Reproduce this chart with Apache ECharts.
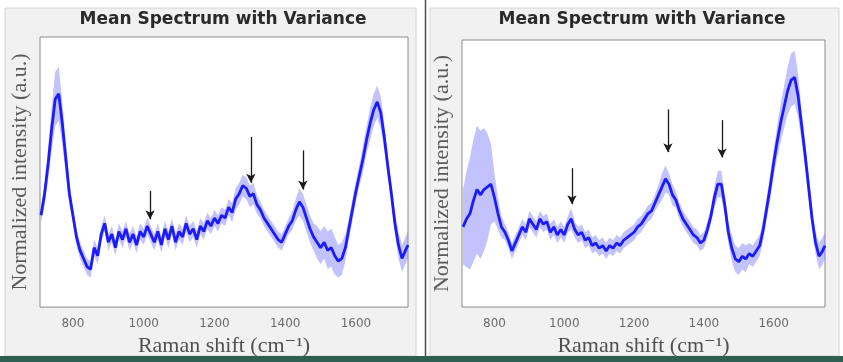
<!DOCTYPE html>
<html>
<head>
<meta charset="utf-8">
<script src="https://cdn.jsdelivr.net/npm/echarts@6/dist/echarts.min.js"></script>
<style>
  html, body { margin: 0; padding: 0; background: #fff; }
  #chart { width: 843px; height: 362px; }
</style>
</head>
<body>
<div id="chart"></div>
<script>
const ramanShift = [
  710, 720, 730, 740, 750, 760, 770, 780, 790, 800,
  810, 820, 830, 840, 850, 860, 870, 880, 890, 900,
  910, 920, 930, 940, 950, 960, 970, 980, 990, 1000,
  1010, 1020, 1030, 1040, 1050, 1060, 1070, 1080, 1090, 1100,
  1110, 1120, 1130, 1140, 1150, 1160, 1170, 1180, 1190, 1200,
  1210, 1220, 1230, 1240, 1250, 1260, 1270, 1280, 1290, 1300,
  1310, 1320, 1330, 1340, 1350, 1360, 1370, 1380, 1390, 1400,
  1410, 1420, 1430, 1440, 1450, 1460, 1470, 1480, 1490, 1500,
  1510, 1520, 1530, 1540, 1550, 1560, 1570, 1580, 1590, 1600,
  1610, 1620, 1630, 1640, 1650, 1660, 1670, 1680, 1690, 1700,
  1710, 1720, 1730, 1740, 1747
]

// left panel: mean spectrum and spread (same units as the y axis)
const leftMean = [
  34, 42, 53, 66, 77, 79, 68, 55, 42, 34,
  26, 21, 18, 15, 14, 22, 19, 27, 31, 24,
  27, 22, 28, 25, 29, 24, 27, 23, 28, 26,
  30, 27, 24, 28, 23, 29, 25, 30, 24, 28,
  26, 31, 27, 29, 25, 30, 28, 32, 30, 33,
  31, 34, 33, 37, 35, 40, 42, 45, 44, 41,
  42, 38, 36, 33, 31, 29, 27, 25, 24, 27,
  30, 32, 36, 39, 37, 33, 29, 26, 24, 22,
  24, 21, 22, 19, 17, 18, 22, 29, 36, 43,
  49, 55, 62, 68, 73, 76, 72, 63, 52, 42,
  31, 23, 18, 21, 23
]
const leftSpread = [
  3, 4, 6, 8, 10, 10, 8, 6, 4, 3,
  3, 3, 3, 3, 3, 3, 3, 3, 3, 3,
  3, 3, 3, 3, 3, 3, 3, 3, 3, 3,
  3, 3, 3, 3, 3, 3, 3, 3, 3, 3,
  3, 3, 3, 3, 3, 3, 3, 3, 3, 3,
  3, 3, 3, 3, 3.5, 4, 4, 4, 4, 4,
  4, 3.5, 3, 3, 3, 3, 3, 3, 3, 3,
  3, 3.5, 4, 5, 5, 5, 5, 5, 6, 6,
  6, 7, 7, 7, 6, 6, 5, 4, 4, 4,
  4, 5, 5, 6, 6, 6, 6, 5, 4, 4,
  4, 5, 5, 5, 5
]
const leftArrows = [[1018, 43, 32.5], [1303, 63, 46], [1450, 58, 43.5]]

// right panel
const rightMean = [
  30, 33, 35, 40, 44, 42, 44, 45, 46, 41,
  35, 30, 28, 25, 21, 24, 27, 30, 28, 33,
  31, 29, 33, 31, 32, 28, 30, 27, 29, 27,
  31, 33, 29, 27, 28, 25, 26, 23, 24, 22,
  23, 21, 23, 22, 24, 23, 25, 26, 27, 28,
  30, 31, 33, 35, 36, 39, 42, 45, 48, 46,
  42, 40, 36, 33, 31, 29, 27, 26, 24, 25,
  29, 34, 41, 46, 46, 38, 28, 22, 18, 17,
  19, 18, 20, 19, 21, 23, 29, 37, 45, 54,
  62, 69, 75, 81, 85, 86, 79, 68, 57, 45,
  33, 24, 19, 21, 23
]
const rightSpread = [
  14, 18, 21, 23, 24, 24, 23, 20, 15, 9,
  6, 4, 3, 3, 3, 3, 3, 3, 3, 3,
  3, 3, 3, 3, 3, 3, 3, 3, 3, 3,
  3, 4, 3, 3, 3, 3, 3, 3, 3, 3,
  3, 3, 3, 3, 3, 3, 3, 3, 3, 3,
  3, 3, 3, 3, 3, 3, 4, 5, 5, 4,
  4, 3, 3, 3, 3, 3, 3, 3, 3, 3,
  3, 3, 4, 5, 5, 4, 4, 5, 5, 5,
  5, 5, 4, 4, 4, 4, 4, 4, 5, 5,
  6, 7, 8, 9, 10, 10, 8, 6, 5, 5,
  4, 4, 5, 5, 5
]
const rightArrows = [[1022, 52, 38.5], [1297, 74, 58], [1452, 70, 56]]

const tickValues = [800, 1000, 1200, 1400, 1600]
const titleText = 'Mean Spectrum with Variance'
const xName = 'Raman shift (cm\u207B\u00B9)'
const yName = 'Normalized intensity (a.u.)'

const serif = '"Liberation Serif", "DejaVu Serif", serif'
const lineBlue = '#1c1cfa'
const bandBlue = 'rgba(110, 110, 255, 0.42)'

function xAxisOf(gridIndex) {
  return {
    type: 'value',
    gridIndex,
    min: 707,
    max: 1747,
    axisLine: { show: false },
    axisTick: { show: false },
    splitLine: { show: false },
    axisLabel: {
      customValues: tickValues,
      formatter: (v) => String(v),
      margin: 11,
      color: '#6a6a6a',
      fontFamily: '"DejaVu Sans", sans-serif',
      fontSize: 12,
    },
    name: xName,
    nameLocation: 'middle',
    nameGap: 27,
    nameTextStyle: { fontFamily: serif, fontSize: 22, color: '#505050' },
  }
}

function yAxisOf(gridIndex) {
  return {
    type: 'value',
    gridIndex,
    min: 0,
    max: 100,
    axisLine: { show: false },
    axisTick: { show: false },
    axisLabel: { show: false },
    splitLine: { show: false },
    name: yName,
    nameLocation: 'middle',
    nameGap: 9,
    nameTextStyle: { fontFamily: serif, fontSize: 22, color: '#5a5a5a' },
  }
}

// variance band drawn as one polygon (upper edge, then lower edge back)
function renderBand(params, api) {
  if (params.dataIndexInside !== 0) return
  const n = params.dataInsideLength
  const pts = []
  for (let i = 0; i < n; i++) pts.push(api.coord([api.value(0, i), api.value(2, i)]))
  for (let i = n - 1; i >= 0; i--) pts.push(api.coord([api.value(0, i), api.value(1, i)]))
  return { type: 'polygon', shape: { points: pts }, style: { fill: bandBlue } }
}

function seriesOf(idx, mean, spread, arrows) {
  return [
    {
      type: 'custom',
      xAxisIndex: idx,
      yAxisIndex: idx,
      data: ramanShift.map((x, i) => [x, mean[i] - spread[i], mean[i] + spread[i]]),
      encode: { x: 0, y: [1, 2] },
      renderItem: renderBand,
      silent: true,
      z: 1,
    },
    {
      type: 'line',
      xAxisIndex: idx,
      yAxisIndex: idx,
      data: ramanShift.map((x, i) => [x, mean[i]]),
      showSymbol: false,
      lineStyle: { color: lineBlue, width: 2.8 },
      z: 2,
      markLine: {
        silent: true,
        symbol: ['none', 'arrow'],
        symbolSize: [7, 9],
        label: { show: false },
        lineStyle: { color: '#1a1a1a', width: 1.3, type: 'solid' },
        data: arrows.map(([x, y0, y1]) => [{ coord: [x, y0] }, { coord: [x, y1] }]),
      },
    },
  ]
}

const chart = echarts.init(document.getElementById('chart'))
chart.setOption({
  animation: false,
  backgroundColor: '#fff',
  graphic: [
    { type: 'rect', shape: { x: 5, y: 8, width: 411, height: 348 }, style: { fill: '#f1f1f1', stroke: '#d4d4d4', lineWidth: 1 }, z: -10 },
    { type: 'rect', shape: { x: 430, y: 8, width: 409, height: 348 }, style: { fill: '#f1f1f1', stroke: '#d4d4d4', lineWidth: 1 }, z: -10 },
    { type: 'line', shape: { x1: 425.5, y1: 0, x2: 425.5, y2: 357 }, style: { stroke: '#4d4d4d', lineWidth: 1.5 }, z: -5 },
    { type: 'rect', shape: { x: 0, y: 356, width: 843, height: 6 }, style: { fill: '#2f5e50' }, z: -5 },
  ],
  title: [
    { text: titleText, left: 223, top: 11, padding: 0, textAlign: 'center',
      textStyle: { fontFamily: '"DejaVu Sans", sans-serif', fontWeight: 'bold', fontSize: 17, color: '#2a2a2a' } },
    { text: titleText, left: 642, top: 11, padding: 0, textAlign: 'center',
      textStyle: { fontFamily: '"DejaVu Sans", sans-serif', fontWeight: 'bold', fontSize: 17, color: '#2a2a2a' } },
  ],
  grid: [
    { left: 40, top: 37, width: 368, height: 271, show: true, backgroundColor: '#fff', borderColor: '#8c8c8c', borderWidth: 1 },
    { left: 462, top: 40, width: 363, height: 267, show: true, backgroundColor: '#fff', borderColor: '#8c8c8c', borderWidth: 1 },
  ],
  xAxis: [xAxisOf(0), xAxisOf(1)],
  yAxis: [yAxisOf(0), yAxisOf(1)],
  series: [
    ...seriesOf(0, leftMean, leftSpread, leftArrows),
    ...seriesOf(1, rightMean, rightSpread, rightArrows),
  ],
})
</script>
</body>
</html>
